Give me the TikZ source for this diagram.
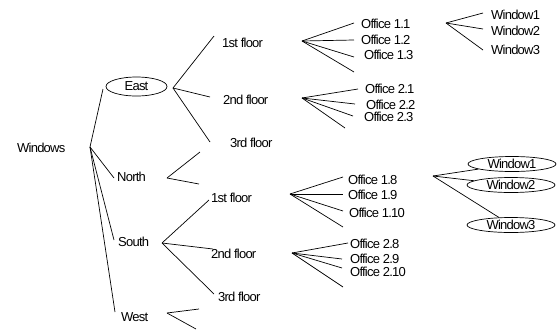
\documentclass[tikz,border=0pt]{standalone}
\usepackage{fontspec}
\setmainfont{Liberation Sans}[LetterSpace=-6]
\usetikzlibrary{shapes.geometric}
\begin{document}
\begin{tikzpicture}[x=1pt,y=-1pt,
  every node/.style={font=\fontsize{13}{13}\selectfont},
  lbl/.style={inner sep=0pt,anchor=west},
  oval/.style={draw,ellipse,inner sep=0pt,line width=0.7pt},
  br/.style={line width=0.7pt}]
\useasboundingbox (0,0) rectangle (560,330);
% root
\node[lbl] (win) at (17,148) {Windows};
\coordinate (w0) at (90,147);
\node[oval,minimum width=61,minimum height=19] (east) at (136.5,86.5) {East};
\node[lbl] (north) at (117,177) {North};
\node[lbl] (south) at (118,242) {South};
\node[lbl] (west) at (121,317) {West};
\coordinate (eN) at (103,89);
\coordinate (nN) at (114,178);
\coordinate (sN) at (114,240);
\coordinate (wN) at (115,312);
\draw[br] (w0) -- (eN);
\draw[br] (w0) -- (nN);
\draw[br] (w0) -- (sN);
\draw[br] (w0) -- (wN);
% East
\coordinate (e0) at (173,88);
\node[lbl] (ef1) at (222,43) {1st floor};
\node[lbl] (ef2) at (223,100) {2nd floor};
\node[lbl] (ef3) at (230,143) {3rd floor};
\coordinate (ef1e) at (214,36);
\coordinate (ef2e) at (210,97);
\coordinate (ef3e) at (210,142);
\draw[br] (e0) -- (ef1e);
\draw[br] (e0) -- (ef2e);
\draw[br] (e0) -- (ef3e);
% East 1st floor
\coordinate (e1) at (302,41);
\node[lbl] (o11) at (361,24) {Office 1.1};
\node[lbl] (o12) at (361,40) {Office 1.2};
\node[lbl] (o13) at (364,55) {Office 1.3};
\coordinate (o11e) at (354,23);
\coordinate (o12e) at (354,40);
\coordinate (o13e) at (354,57);
\coordinate (o14e) at (354,72);
\draw[br] (e1) -- (o11e);
\draw[br] (e1) -- (o12e);
\draw[br] (e1) -- (o13e);
\draw[br] (e1) -- (o14e);
% windows of Office 1.1
\coordinate (wa) at (446,23);
\node[lbl] (wa1) at (491,15) {Window1};
\node[lbl] (wa2) at (491,31) {Window2};
\node[lbl] (wa3) at (491,50) {Window3};
\coordinate (wa1e) at (483,13);
\coordinate (wa2e) at (483,29);
\coordinate (wa3e) at (483,50);
\draw[br] (wa) -- (wa1e);
\draw[br] (wa) -- (wa2e);
\draw[br] (wa) -- (wa3e);
% East 2nd floor
\coordinate (e2) at (302,98);
\node[lbl] (o21) at (365,89) {Office 2.1};
\node[lbl] (o22) at (366,105) {Office 2.2};
\node[lbl] (o23) at (364,117) {Office 2.3};
\coordinate (o21e) at (358,89);
\coordinate (o22e) at (355,104);
\coordinate (o23e) at (353,116);
\coordinate (o24e) at (345,128);
\draw[br] (e2) -- (o21e);
\draw[br] (e2) -- (o22e);
\draw[br] (e2) -- (o23e);
\draw[br] (e2) -- (o24e);
% North
\coordinate (n0) at (167,178);
\coordinate (n1e) at (200,152);
\coordinate (n2e) at (199,184);
\draw[br] (n0) -- (n1e);
\draw[br] (n0) -- (n2e);
% South
\coordinate (s0) at (162,243);
\node[lbl] (sf1) at (211,198) {1st floor};
\node[lbl] (sf2) at (211,254) {2nd floor};
\node[lbl] (sf3) at (218,297) {3rd floor};
\coordinate (sf1e) at (209,200);
\coordinate (sf2e) at (213,249);
\coordinate (sf3e) at (214,294);
\draw[br] (s0) -- (sf1e);
\draw[br] (s0) -- (sf2e);
\draw[br] (s0) -- (sf3e);
% South 1st floor
\coordinate (s1) at (290,194);
\node[lbl] (o18) at (348,180) {Office 1.8};
\node[lbl] (o19) at (348,195) {Office 1.9};
\node[lbl] (o110) at (349,213) {Office 1.10};
\coordinate (o18e) at (343,177);
\coordinate (o19e) at (343,194);
\coordinate (o110e) at (343,211);
\coordinate (o111e) at (343,227);
\draw[br] (s1) -- (o18e);
\draw[br] (s1) -- (o19e);
\draw[br] (s1) -- (o110e);
\draw[br] (s1) -- (o111e);
% windows of Office 1.8
\coordinate (wb) at (433,176);
\node[oval,minimum width=88,minimum height=15] (wb1) at (512,164) {Window1};
\node[oval,minimum width=88,minimum height=15] (wb2) at (511,185) {Window2};
\node[oval,minimum width=88,minimum height=15] (wb3) at (511,225) {Window3};
\draw[br] (wb) -- (wb1);
\draw[br] (wb) -- (wb2);
\draw[br] (wb) -- (wb3);
% South 2nd floor
\coordinate (s2) at (292,253);
\node[lbl] (o28) at (350,244) {Office 2.8};
\node[lbl] (o29) at (350,259) {Office 2.9};
\node[lbl] (o210) at (350,272) {Office 2.10};
\coordinate (o28e) at (348,243);
\coordinate (o29e) at (342,259);
\coordinate (o210e) at (342,268);
\coordinate (o211e) at (343,287);
\draw[br] (s2) -- (o28e);
\draw[br] (s2) -- (o29e);
\draw[br] (s2) -- (o210e);
\draw[br] (s2) -- (o211e);
% West
\coordinate (w1) at (167,313);
\coordinate (w1a) at (199,309);
\coordinate (w1b) at (196,329);
\draw[br] (w1) -- (w1a);
\draw[br] (w1) -- (w1b);
\end{tikzpicture}
\end{document}
